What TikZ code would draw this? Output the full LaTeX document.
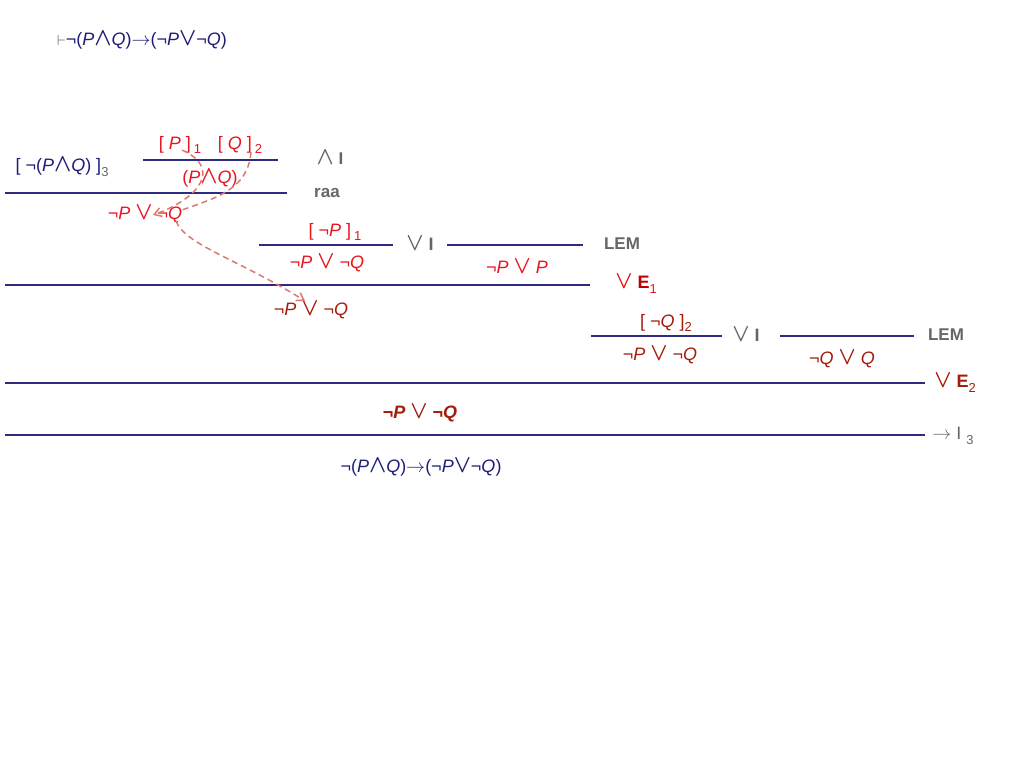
\documentclass[tikz,border=0pt]{standalone}
\usepackage{fontspec}
\setmainfont{Liberation Sans}
\usetikzlibrary{arrows.meta}
\definecolor{navyline}{HTML}{2E2A80}
\definecolor{navytxt}{HTML}{1E1E78}
\definecolor{rred}{HTML}{E8141E}
\definecolor{dred}{HTML}{A41C0C}
\definecolor{glab}{HTML}{666666}
\definecolor{dashc}{HTML}{D97B70}
\newcommand\vOr{\scalebox{1.3}[1.45]{\boldmath$\vee$}}
\newcommand\vAnd{\scalebox{1.3}[1.45]{\boldmath$\wedge$}}
\newcommand\vTo{\scalebox{1.1}{$\rightarrow$}}
\newcommand\vP{\textit{P}}
\newcommand\vQ{\textit{Q}}
\newcommand\sbs[1]{\raisebox{-0.45ex}{\fontsize{13}{13}\selectfont #1}}
\tikzset{
  txt/.style={inner sep=0pt, font=\fontsize{18}{20}\selectfont},
  lab/.style={txt, text=glab, font=\fontsize{17}{20}\selectfont\bfseries},
  rule/.style={draw=navyline, line width=1.6pt},
  dashy/.style={draw=dashc, line width=1.5pt, dash pattern=on 6pt off 4pt},
  tip/.style={-{Straight Barb[length=7pt,width=9pt]}}
}
\begin{document}
\begin{tikzpicture}[x=1pt,y=-1pt]
\useasboundingbox (0,0) rectangle (1024,768);
% title
\node[txt, text=navytxt] (title) at (142,40) {{\color{glab!60!navytxt}\fontsize{14}{14}\selectfont$\vdash$}¬(\vP\vAnd\vQ)\vTo(¬\vP\vOr¬\vQ)};
% first block
\node[txt, text=navytxt] (h3) at (62,167) {[ ¬(\vP\vAnd\vQ) ]{\color{glab}\sbs{3}}};
\node[txt, text=rred] (hP) at (180,145) {[ \vP{} ]\,\sbs{1}};
\node[txt, text=rred] (hQ) at (240,145) {[ \vQ{} ]\,\sbs{2}};
\coordinate (r1a) at (143,160); \coordinate (r1b) at (278,160);
\draw[rule] (r1a) -- (r1b);
\node[lab] (andI) at (330,158) {\vAnd\ I};
\node[txt, text=rred] (PQ) at (210,178) {(\vP\vAnd\vQ)};
\coordinate (r2a) at (5,193); \coordinate (r2b) at (287,193);
\draw[rule] (r2a) -- (r2b);
\node[lab] (raa) at (327,193) {raa};
\node[txt, text=rred] (c1) at (145,214) {¬\vP{} \vOr\ ¬\vQ};
% second block
\node[txt, text=rred] (hnP) at (335,232) {[ ¬\vP{} ]\,\sbs{1}};
\coordinate (r3a) at (259,245); \coordinate (r3b) at (393,245);
\draw[rule] (r3a) -- (r3b);
\node[txt, text=glab] (orI1) at (420,244) {\vOr\ \textbf{I}};
\coordinate (r4a) at (447,245); \coordinate (r4b) at (583,245);
\draw[rule] (r4a) -- (r4b);
\node[lab] (lem1) at (622,244) {LEM};
\node[txt, text=rred] (c2) at (327,263) {¬\vP{} \vOr\ ¬\vQ};
\node[txt, text=rred] (c3) at (517,267) {¬\vP{} \vOr\ \vP};
\coordinate (r5a) at (5,285); \coordinate (r5b) at (590,285);
\draw[rule] (r5a) -- (r5b);
\node[txt, text=rred] (orE1) at (636,284) {\vOr\ {\color{red!75!black}\textbf{E}}\sbs{1}};
\node[txt, text=dred] (c4) at (311,310) {¬\vP{} \vOr\ ¬\vQ};
% third block
\node[txt, text=dred] (hnQ) at (666,323) {[ ¬\vQ{} ]\sbs{2}};
\coordinate (r6a) at (591,336); \coordinate (r6b) at (722,336);
\draw[rule] (r6a) -- (r6b);
\node[txt, text=glab] (orI2) at (746,335) {\vOr\ \textbf{I}};
\coordinate (r7a) at (780,336); \coordinate (r7b) at (914,336);
\draw[rule] (r7a) -- (r7b);
\node[lab] (lem2) at (946,335) {LEM};
\node[txt, text=dred] (c5) at (660,355) {¬\vP{} \vOr\ ¬\vQ};
\node[txt, text=dred] (c6) at (842,359) {¬\vQ{} \vOr\ \vQ};
\coordinate (r8a) at (5,383); \coordinate (r8b) at (925,383);
\draw[rule] (r8a) -- (r8b);
\node[txt, text=dred] (orE2) at (955,383) {\vOr\ \textbf{E}\sbs{2}};
\node[txt, text=dred, font=\fontsize{18}{20}\selectfont\bfseries] (c7) at (420,413) {¬\vP{} \vOr\ ¬\vQ};
\coordinate (r9a) at (5,435); \coordinate (r9b) at (925,435);
\draw[rule] (r9a) -- (r9b);
\node[txt, text=glab] (toI) at (953,436) {\vTo\ I\ \raisebox{-0.6ex}{\fontsize{13}{13}\selectfont 3}};
\node[txt, text=navytxt] (final) at (421,467) {¬(\vP\vAnd\vQ)\vTo(¬\vP\vOr¬\vQ)};
% dashed connectors
\coordinate (d1s) at (182,150);
\coordinate (d1e) at (153,215);
\coordinate (d2s) at (251,152);
\coordinate (d2e) at (182,210);
\coordinate (d3s) at (176,221);
\coordinate (d3e) at (305,301);
\draw[dashy, tip] (d1s) .. controls (222,168) and (200,198) .. (d1e);
\draw[dashy] (d2s) .. controls (248,190) and (215,198) .. (d2e);
\draw[dashy, tip] (d3s) .. controls (185,245) and (240,260) .. (d3e);
\end{tikzpicture}
\end{document}
